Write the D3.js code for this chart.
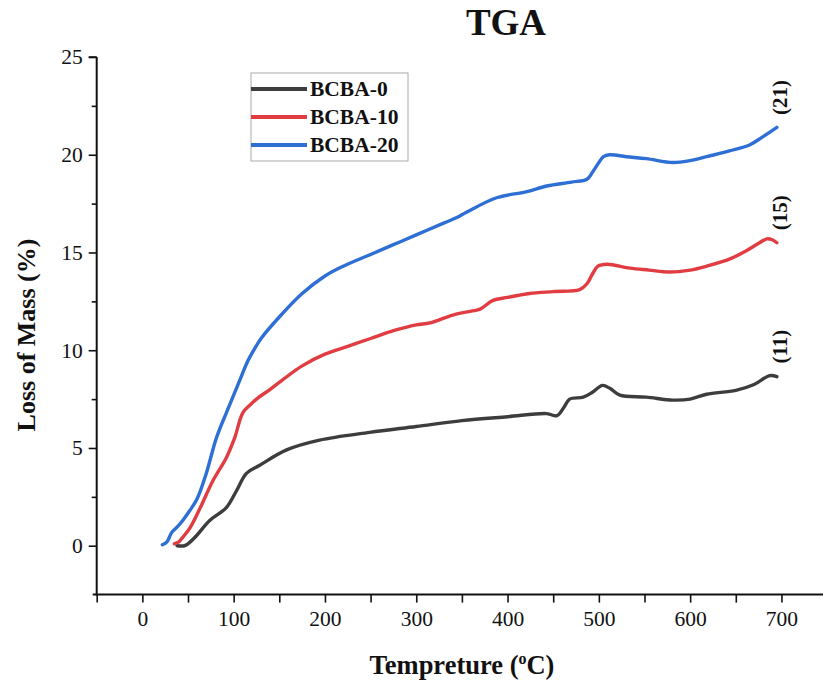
<!DOCTYPE html>
<html>
<head>
<meta charset="utf-8">
<script src="https://cdn.jsdelivr.net/npm/d3@7"></script>
<style>
  html, body { margin: 0; padding: 0; background: #fff; }
  svg { display: block; }
  text { font-family: "Liberation Serif", "Times New Roman", serif; }
</style>
</head>
<body>
<svg id="chart" width="823" height="681"></svg>
<script>
// Thermogravimetric mass-loss curves for the three BCBA samples
const seriesNames = ["BCBA-0", "BCBA-10", "BCBA-20"];
const seriesColors = ["#3d3d40", "#e03c42", "#2d6fd4"];

const bcba0Temp = [38, 46, 50, 59, 74, 92, 103, 114, 128, 158, 194, 249, 300, 350, 400, 443, 454, 462, 468, 483, 493, 504, 512, 523, 552, 581, 600, 618, 650, 670, 687, 695];
const bcba0Loss = [0, 0.0, 0.1, 0.5, 1.3, 1.95, 2.8, 3.7, 4.1, 4.9, 5.4, 5.8, 6.1, 6.4, 6.6, 6.76, 6.65, 7.1, 7.5, 7.6, 7.85, 8.2, 8.05, 7.7, 7.6, 7.45, 7.5, 7.75, 7.95, 8.25, 8.7, 8.65];

const bcba10Temp = [35, 40, 43, 52, 63, 77, 92, 101, 110, 118, 125, 140, 154, 175, 200, 225, 250, 275, 300, 315, 340, 360, 370, 384, 400, 424, 450, 479, 487, 493, 499, 509, 534, 555, 577, 600, 618, 645, 662, 676, 684, 690, 695];
const bcba10Loss = [0.1, 0.2, 0.36, 0.9, 1.9, 3.3, 4.5, 5.5, 6.8, 7.2, 7.5, 8.0, 8.5, 9.2, 9.8, 10.2, 10.6, 11.0, 11.3, 11.4, 11.8, 12.0, 12.1, 12.55, 12.7, 12.9, 13.0, 13.1, 13.4, 13.9, 14.3, 14.4, 14.2, 14.1, 14.0, 14.1, 14.3, 14.7, 15.1, 15.5, 15.7, 15.65, 15.5];

const bcba20Temp = [22, 27, 32, 38, 44, 52, 60, 70, 81, 92, 100, 107, 115, 122, 130, 150, 175, 200, 220, 250, 275, 300, 330, 345, 355, 388, 420, 443, 470, 487, 493, 500, 505, 512, 530, 552, 581, 600, 618, 643, 665, 679, 695];
const bcba20Loss = [0.05, 0.2, 0.67, 0.95, 1.28, 1.8, 2.4, 3.7, 5.5, 6.8, 7.7, 8.5, 9.4, 10.0, 10.6, 11.7, 12.9, 13.8, 14.3, 14.9, 15.4, 15.9, 16.5, 16.8, 17.06, 17.8, 18.1, 18.4, 18.6, 18.75, 19.1, 19.6, 19.9, 20.0, 19.9, 19.8, 19.6, 19.7, 19.9, 20.2, 20.5, 20.9, 21.4];

// Final mass-loss values written beside each curve end
const endLabels = ["(11)", "(15)", "(21)"];

const xTicks = d3.range(-50, 751, 50);
const xTickLabels = [0, 100, 200, 300, 400, 500, 600, 700];
const yTicks = d3.range(-2.5, 25.01, 2.5);
const yTickLabels = [0, 5, 10, 15, 20, 25];

const svg = d3.select("#chart");

const x = d3.scaleLinear().domain([-50, 750]).range([96.7, 827.1]);
const y = d3.scaleLinear().domain([-2.5, 25]).range([594.6, 57]);

const series = [
  { name: seriesNames[0], color: seriesColors[0], t: bcba0Temp, v: bcba0Loss },
  { name: seriesNames[1], color: seriesColors[1], t: bcba10Temp, v: bcba10Loss },
  { name: seriesNames[2], color: seriesColors[2], t: bcba20Temp, v: bcba20Loss }
];

// Axes
const xAxis = d3.axisBottom(x)
  .tickValues(xTicks)
  .tickSize(8)
  .tickSizeOuter(0)
  .tickFormat(d => xTickLabels.includes(d) ? d : "");
const gx = svg.append("g")
  .attr("transform", `translate(0,${y(-2.5)})`)
  .call(xAxis);
gx.select(".domain").attr("stroke", "#111").attr("stroke-width", 2)
  .attr("d", `M${x(-50) - 4},0H${x(750)}`);
gx.selectAll(".tick line").attr("stroke", "#111").attr("stroke-width", 1.6);
gx.selectAll(".tick text")
  .attr("font-size", 21.5).attr("fill", "#111").attr("dy", "0.95em")
  .style("font-family", "Liberation Serif, serif");

const yAxis = d3.axisLeft(y)
  .tickValues(yTicks)
  .tickSize(0)
  .tickFormat(d => yTickLabels.includes(d) ? d : "");
const gy = svg.append("g")
  .attr("transform", `translate(${x(-50)},0)`)
  .call(yAxis);
gy.select(".domain").attr("stroke", "#111").attr("stroke-width", 2)
  .attr("d", `M0,${y(25)}V${y(-2.5) + 1}`);
gy.selectAll(".tick line")
  .attr("x2", d => yTickLabels.includes(d) ? -8 : -5)
  .attr("stroke", d => d === -2.5 ? "none" : "#111")
  .attr("stroke-width", 1.6);
gy.selectAll(".tick text")
  .attr("font-size", 21.5).attr("fill", "#111").attr("x", -14)
  .style("font-family", "Liberation Serif, serif");
// top tick at 25 on the axis
gy.append("line").attr("x1", 0).attr("x2", -8)
  .attr("y1", y(25)).attr("y2", y(25)).attr("stroke", "#111").attr("stroke-width", 1.6);

// Curves
const line = d3.line()
  .x(d => x(d[0]))
  .y(d => y(d[1]))
  .curve(d3.curveCatmullRom.alpha(0.5));

svg.append("g").selectAll("path")
  .data(series)
  .join("path")
  .attr("d", s => line(s.t.map((t, i) => [t, s.v[i]])))
  .attr("fill", "none")
  .attr("stroke", s => s.color)
  .attr("stroke-width", 3.4)
  .attr("stroke-linejoin", "round")
  .attr("stroke-linecap", "round");

// End-of-run annotations, rotated, placed above each curve end
const lastLoss = series.map(s => s.v[s.v.length - 1]);
svg.append("g").selectAll("text")
  .data(endLabels)
  .join("text")
  .attr("transform", (d, i) => `translate(${x(700) + 6},${y(lastLoss[i]) - 30}) rotate(-90)`)
  .attr("text-anchor", "middle")
  .attr("font-size", 21)
  .attr("font-weight", "bold")
  .attr("fill", "#111")
  .text(d => d);

// Title
svg.append("text")
  .attr("x", 506).attr("y", 35)
  .attr("text-anchor", "middle")
  .attr("font-size", 37).attr("font-weight", "bold").attr("fill", "#111")
  .text("TGA");

// Axis titles
const xt = svg.append("text")
  .attr("x", 462).attr("y", 674)
  .attr("text-anchor", "middle")
  .attr("font-size", 26.5).attr("font-weight", "bold").attr("fill", "#111");
xt.append("tspan").text("Tempreture (");
xt.append("tspan").attr("font-size", 16).attr("dy", -10).text("o");
xt.append("tspan").attr("dy", 10).text("C)");

svg.append("text")
  .attr("transform", "translate(35,335) rotate(-90)")
  .attr("text-anchor", "middle")
  .attr("font-size", 26).attr("font-weight", "bold").attr("fill", "#111")
  .text("Loss of Mass (%)");

// Legend
const legend = svg.append("g").attr("transform", "translate(251,73)");
legend.append("rect")
  .attr("width", 157).attr("height", 88)
  .attr("fill", "#fff").attr("stroke", "#aaa").attr("stroke-width", 1);
series.forEach((s, i) => {
  const ly = 16 + i * 28;
  legend.append("line")
    .attr("x1", 0).attr("x2", 56).attr("y1", ly).attr("y2", ly)
    .attr("stroke", s.color).attr("stroke-width", 4);
  legend.append("text")
    .attr("x", 59).attr("y", ly + 7)
    .attr("font-size", 21.5).attr("font-weight", "bold").attr("fill", "#111")
    .text(s.name);
});
</script>
</body>
</html>
